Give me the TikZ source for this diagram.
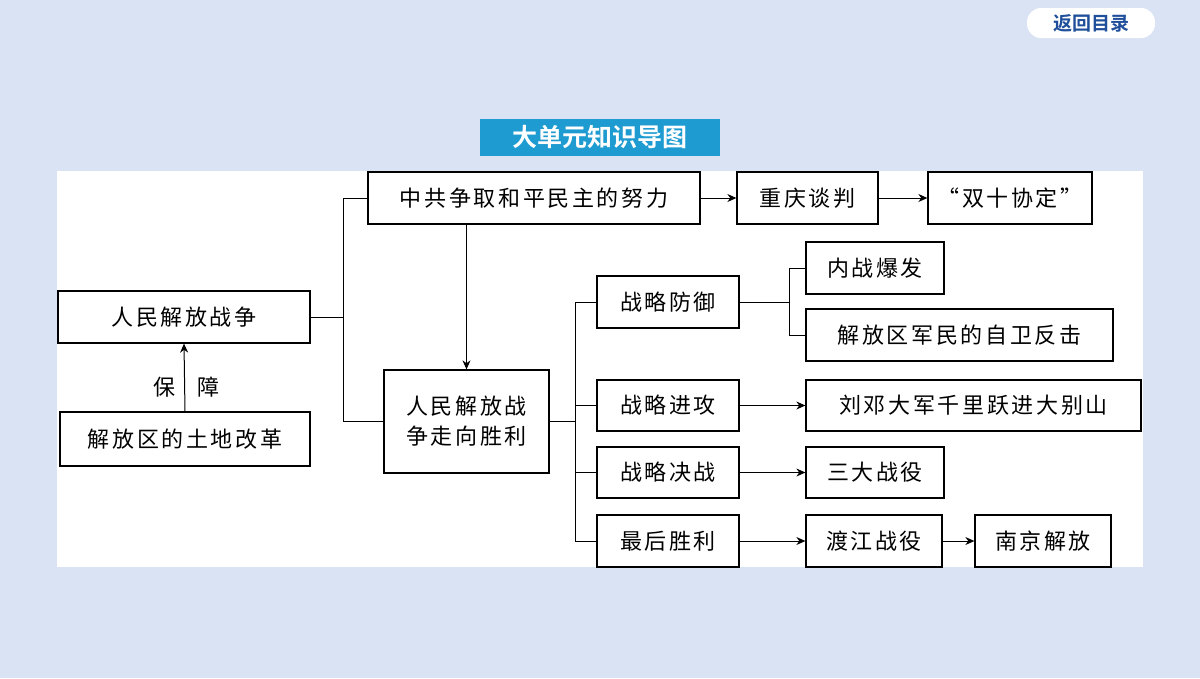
\documentclass[tikz,border=0pt]{standalone}
\usepackage{fontspec}
\setmainfont{Noto Sans CJK SC}[LetterSpace=12]
\newfontfamily\cjkb{Noto Sans CJK SC}[BoldFont={* Bold}]
\usetikzlibrary{arrows.meta}
\definecolor{bg}{HTML}{D9E3F4}
\definecolor{tb}{HTML}{1E9BD0}
\definecolor{db}{HTML}{1F4E9A}
\begin{document}
\begin{tikzpicture}[x=1pt,y=-1pt,
 bx/.style={draw=black,line width=1.3pt,fill=white,font=\fontsize{22}{30}\selectfont,inner sep=0pt},
 ln/.style={line width=1pt},
 ar/.style={ln,-{Stealth[length=9pt,width=8pt]}}]
\fill[bg] (0,0) rectangle (1200,678);
\fill[white] (57,171) rectangle (1143,567);
\fill[white,rounded corners=14pt] (1027,8) rectangle (1155,38);
\node[text=db,font=\cjkb\bfseries\fontsize{19}{22}\selectfont] (ret) at (1091,23) {返回目录};
\fill[tb] (480,119) rectangle (720,156);
\node[text=white,font=\cjkb\bfseries\fontsize{25}{28}\selectfont] (title) at (600,137.5) {大单元知识导图};
\newcommand{\bx}[6]{\node[bx,minimum width=#4-#2,minimum height=#5-#3] (#1) at ({(#2+#4)/2},{(#3+#5)/2}) {#6};}
\bx{a}{58}{291}{310}{343}{人民解放战争}
\bx{b}{60}{412}{310}{466}{解放区的土地改革}
\bx{c}{368}{172}{700}{224}{中共争取和平民主的努力}
\bx{d}{737}{172}{878}{224}{重庆谈判}
\bx{e}{928}{172}{1092}{224}{“双十协定”}
\node[bx,minimum width=165,minimum height=103,align=center] (f) at (466.5,421.5) {人民解放战\\争走向胜利};
\bx{g1}{597}{276}{739}{328}{战略防御}
\bx{h1}{806}{242}{944}{294}{内战爆发}
\bx{h2}{806}{309}{1113}{361}{解放区军民的自卫反击}
\bx{g2}{597}{380}{739}{431}{战略进攻}
\bx{h3}{806}{380}{1141}{431}{刘邓大军千里跃进大别山}
\bx{g3}{597}{447}{739}{498}{战略决战}
\bx{h4}{806}{447}{944}{498}{三大战役}
\bx{g4}{597}{515}{739}{567}{最后胜利}
\bx{h5}{806}{515}{942}{567}{渡江战役}
\bx{h6}{975}{515}{1111}{567}{南京解放}
\coordinate (j1) at (343,317);
\draw[ln] (a.east) -- (j1);
\draw[ln] (j1) |- (c.west);
\draw[ln] (j1) |- (f.west);
\draw[ar] (c.south -| f.north) -- (f.north);
\draw[ar] (c) -- (d);
\draw[ar] (d) -- (e);
\draw[ar] (b.north) -- (a.south);
\node[font=\fontsize{22}{24}\selectfont] (bz1) at (164,387) {保};
\node[font=\fontsize{22}{24}\selectfont] (bz2) at (208,387) {障};
\coordinate (j2) at (575,421.5);
\draw[ln] (f.east) -- (j2);
\foreach \g in {g1,g2,g3,g4} \draw[ln] (j2) |- (\g.west);
\coordinate (j3) at (789,302);
\draw[ln] (g1.east) -- (j3);
\draw[ln] (j3) |- (h1.west);
\draw[ln] (j3) |- (h2.west);
\draw[ar] (g2) -- (h3);
\draw[ar] (g3) -- (h4);
\draw[ar] (g4) -- (h5);
\draw[ar] (h5) -- (h6);
\end{tikzpicture}
\end{document}
